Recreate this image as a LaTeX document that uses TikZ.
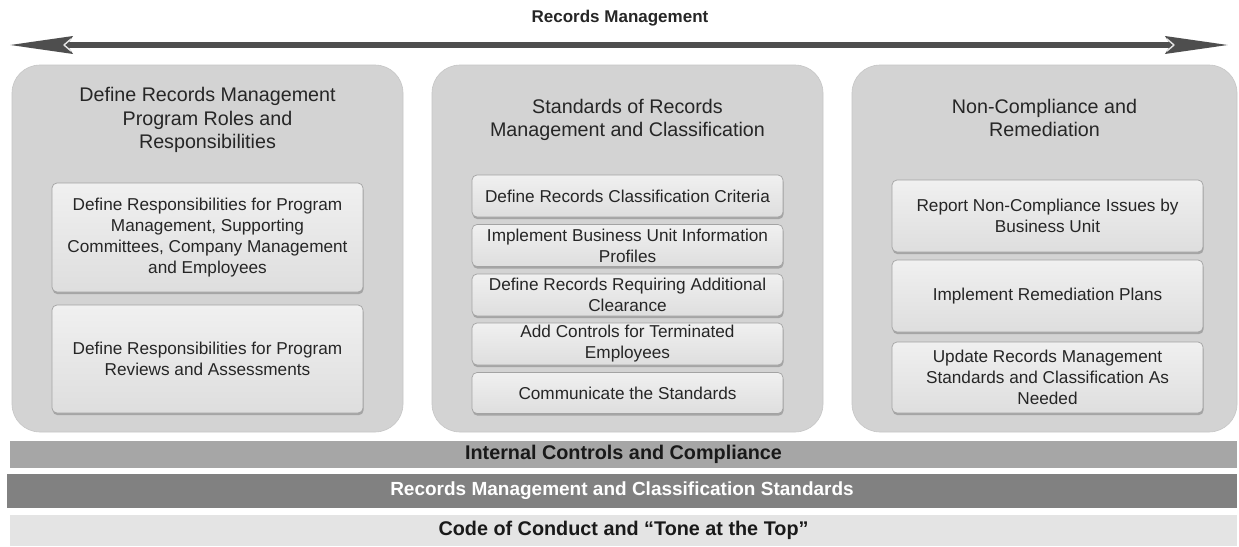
\documentclass[tikz,border=0pt]{standalone}
\usepackage{fontspec}
\setmainfont{Liberation Sans}
\usetikzlibrary{arrows.meta,shadows}

\definecolor{txt}{HTML}{262626}
\definecolor{arrowgray}{HTML}{4E4E4E}
\definecolor{panelgray}{HTML}{D3D3D3}
\definecolor{paneledge}{HTML}{C6C6C6}
\definecolor{boxtop}{HTML}{F0F0F0}
\definecolor{boxbot}{HTML}{DEDEDE}
\definecolor{boxedge}{HTML}{A3A3A3}
\definecolor{barmid}{HTML}{A6A6A6}
\definecolor{bardark}{HTML}{818181}
\definecolor{barlight}{HTML}{E4E4E4}

\newcommand{\titlefont}{\fontsize{19.7}{23.3}\selectfont}
\newcommand{\itemfont}{\fontsize{17.2}{21}\selectfont}
\newcommand{\barfont}{\bfseries\fontsize{19.8}{22}\selectfont}

\begin{document}
\begin{tikzpicture}[x=1pt,y=-1pt,
  panel/.style={rounded corners=28pt, fill=panelgray, draw=paneledge, line width=0.6pt,
    minimum width=391pt, minimum height=367pt, inner sep=0pt},
  paneltitle/.style={align=center, font=\titlefont, text=txt, inner sep=0pt},
  stepbox/.style={rounded corners=5pt, draw=boxedge, line width=0.7pt,
    top color=boxtop, bottom color=boxbot,
    drop shadow={shadow xshift=0.6pt, shadow yshift=-2.2pt, fill=black!50, opacity=0.55},
    minimum width=311pt, align=center, font=\itemfont, text=txt, inner sep=0pt},
  bar/.style={minimum width=1227pt, inner sep=0pt, font=\barfont, text=black!90},
  bothtips/.style={{Stealth[length=63pt,width=17pt,inset=5pt]}-{Stealth[length=63pt,width=17pt,inset=5pt]}}
]
\useasboundingbox[fill=white] (0,0) rectangle (1239,546);

% heading and the double arrow below it
\node[font=\bfseries\fontsize{17}{20}\selectfont, text=txt] (head) at (620,18) {Records Management};
\coordinate (al) at (9,45);
\coordinate (ar) at (1229,45);
\draw[arrowgray, line width=6pt, bothtips] (al) -- (ar);
\draw[white!80!gray, line width=1.4pt, line join=round]
  ([shift={(62,-6)}]al) -- ([shift={(55,0)}]al) -- ([shift={(62,6)}]al);
\draw[white!80!gray, line width=1.4pt, line join=round]
  ([shift={(-62,-6)}]ar) -- ([shift={(-55,0)}]ar) -- ([shift={(-62,6)}]ar);

% three panels
\node[panel] (p1) at (207.5,248.5) {};
\node[panel] (p2) at (627.5,248.5) {};
\node[panel, minimum width=385pt] (p3) at (1044.5,248.5) {};

% left panel
\node[paneltitle] (t1) at (207.5,120) {Define Records Management\\Program Roles and\\Responsibilities};
\node[stepbox, minimum height=109pt] (l1) at (207.5,237.5)
  {Define Responsibilities for Program\\Management, Supporting\\Committees, Company Management\\and Employees};
\node[stepbox, minimum height=108pt] (l2) at (207.5,359)
  {Define Responsibilities for Program\\Reviews and Assessments};

% middle panel
\node[paneltitle] (t2) at (627.5,120) {Standards of Records\\Management and Classification};
\node[stepbox, minimum height=42pt] (m1) at (627.5,196) {Define Records Classification Criteria};
\node[stepbox, minimum height=42pt] (m2) at (627.5,245.5) {Implement Business Unit Information\\Profiles};
\node[stepbox, minimum height=42pt] (m3) at (627.5,295) {Define Records Requiring Additional\\Clearance};
\node[stepbox, minimum height=42pt] (m4) at (627.5,344) {Add Controls for Terminated\\Employees};
\node[stepbox, minimum height=41pt] (m5) at (627.5,393) {Communicate the Standards};

% right panel
\node[paneltitle] (t3) at (1044.5,118) {Non-Compliance and\\Remediation};
\node[stepbox, minimum height=72pt] (r1) at (1047.5,216) {Report Non-Compliance Issues by\\Business Unit};
\node[stepbox, minimum height=72pt] (r2) at (1047.5,296) {Implement Remediation Plans};
\node[stepbox, minimum height=71pt] (r3) at (1047.5,377.5) {Update Records Management\\Standards and Classification As\\Needed};

% foundation bars
\node[bar, fill=barmid, minimum height=27pt] (b1) at (623.5,454.5) {Internal Controls and Compliance};
\node[bar, fill=bardark, minimum width=1230pt, minimum height=34pt, text=white,
  font=\bfseries\fontsize{19}{22}\selectfont] (b2) at (622,491) {Records Management and Classification Standards};
\node[bar, fill=barlight, minimum height=31pt] (b3) at (623.5,530.5) {Code of Conduct and “Tone at the Top”};
\end{tikzpicture}
\end{document}
